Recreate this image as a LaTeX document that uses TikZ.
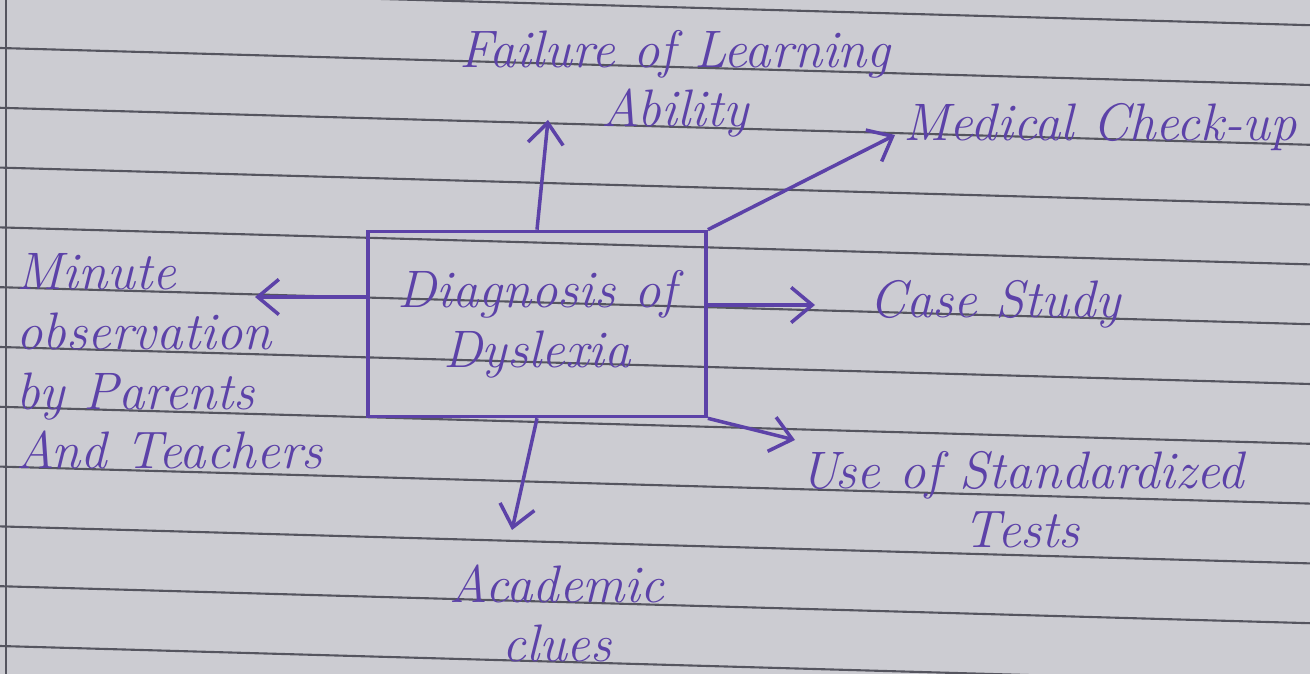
\documentclass[tikz,border=0pt]{standalone}
\usetikzlibrary{arrows.meta}
\definecolor{ink}{RGB}{92,66,168}
\definecolor{paper}{RGB}{204,204,210}
\definecolor{ruling}{RGB}{85,85,95}
\tikzset{
  hand/.style={text=ink, font=\fontsize{15}{17}\selectfont\itshape, inner sep=1pt},
  arr/.style={draw=ink, line width=1pt, -{Straight Barb[length=6pt,width=10pt]}},
}
\begin{document}
\begin{tikzpicture}[x=0.01cm, y=-0.01cm]
    \clip (0,0) rectangle (1310,674);
    \fill[paper] (0,0) rectangle (1310,674);
    \foreach \k in {-1,...,11}
       \draw[ruling, line width=.6pt] (0, 48+59.8*\k) -- (1310, 85+59.8*\k);
    \draw[ruling, line width=.6pt] (6,0) -- (6,674);
    \node[draw=ink, line width=1pt, minimum width=3.38cm, minimum height=1.85cm, hand, align=center] (box) at (537,324) {Diagnosis of\\Dyslexia};
    \node[hand, align=center, anchor=base] (fail) at (675,127) {Failure of Learning\\Ability};
    \node[hand, anchor=base] (med) at (1100,141) {Medical Check-up};
    \node[hand, anchor=base] (case) at (995,318) {Case Study};
    \node[hand, align=center, anchor=base] (tests) at (1022,548) {Use of Standardized\\Tests};
    \node[hand, align=center, anchor=base] (acad) at (557,662) {Academic\\clues};
    \node[hand, align=left, anchor=base west] (obs) at (12,469) {Minute\\observation\\by Parents\\And Teachers};
    \coordinate (failtip) at (548,120);
    \coordinate (medtip) at (895,135);
    \coordinate (casetip) at (815,305);
    \coordinate (teststip) at (795,440);
    \coordinate (acadtip) at (512,530);
    \coordinate (obstip) at (255,297);
    \draw[arr] (box.north) -- (failtip);
    \draw[arr] (box.north east) -- (medtip);
    \draw[arr] (casetip -| box.east) -- (casetip);
    \draw[arr] (box.south east) -- (teststip);
    \draw[arr] (box.south) -- (acadtip);
    \draw[arr] (obstip -| box.west) -- (obstip);
\end{tikzpicture}
\end{document}
